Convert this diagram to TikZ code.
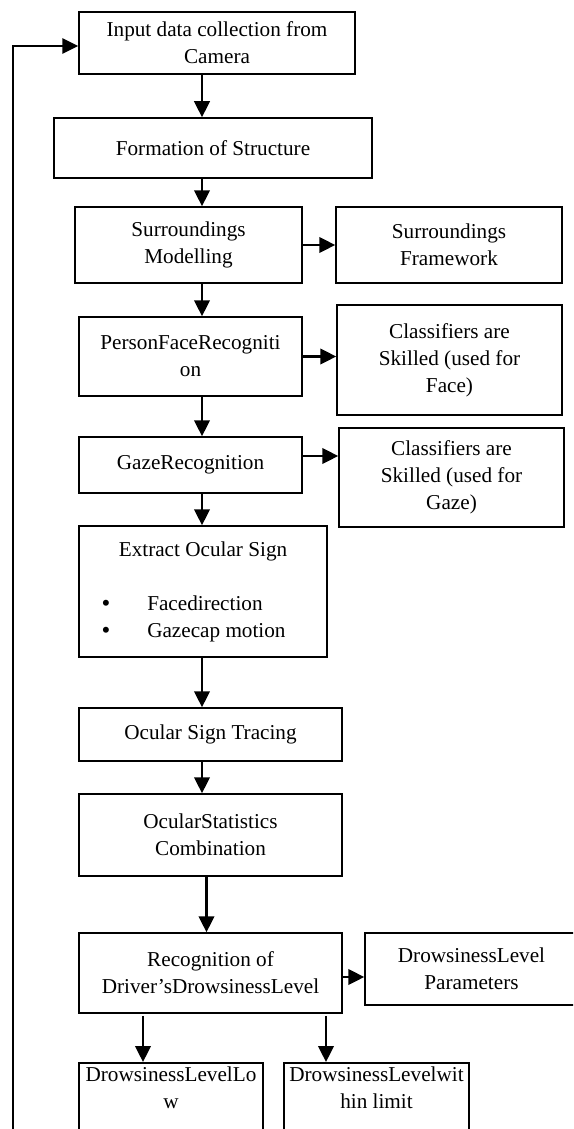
\documentclass[tikz,border=0pt]{standalone}
\usepackage{fontspec}
\setmainfont{Liberation Serif}
\usetikzlibrary{positioning}
\usetikzlibrary{arrows.meta}
\newcommand{\boxfont}{\fontsize{21.2}{27}\selectfont}
\newcommand{\bulletline}[1]{\makebox[203pt][l]{\smash{\raisebox{-1pt}{\fontsize{25}{25}\selectfont\textbullet}}\hspace{37pt}#1}}
\tikzset{>={Triangle[length=16pt,width=15.5pt]}}
\tikzset{blk/.style={draw, line width=1.5pt, align=center, inner sep=4pt, font=\boxfont}}
\tikzset{arr/.style={->, line width=2.5pt}}
\tikzset{ln/.style={->, line width=1.7pt}}

\begin{document}
\begin{tikzpicture}[x=1pt, y=-1pt]
\useasboundingbox (0,0) rectangle (573,1129);
\clip (0,0) rectangle (573,1129);

\node (input) [blk, minimum width=276pt, minimum height=62pt] at (217, 43) {Input data collection from\\Camera};
\node (struct) [blk, minimum width=318pt, minimum height=60pt] at (213, 148) {Formation of Structure};
\node (envmod) [blk, minimum width=227pt, minimum height=76pt] at (188.5, 245) {Surroundings\\Modelling};
\node (envfw) [blk, minimum width=226pt, minimum height=76pt] at (449, 245) {Surroundings\\Framework};
\node (face) [blk, minimum width=223pt, minimum height=79pt] at (190.5, 356.5) {PersonFaceRecogniti\\on};
\node (facecls) [blk, minimum width=225pt, minimum height=110pt] at (449.5, 360) {Classifiers are\\Skilled (used for\\Face)};
\node (gaze) [blk, minimum width=223pt, minimum height=56pt] at (190.5, 465) {GazeRecognition};
\node (gazecls) [blk, minimum width=225pt, minimum height=99pt] at (451.5, 477.5) {Classifiers are\\Skilled (used for\\Gaze)};
\node (extract) [blk, minimum width=248pt, minimum height=131pt] at (203, 591.5) {Extract Ocular Sign\\[27pt]\bulletline{Facedirection}\\\bulletline{Gazecap motion}};
\node (trace) [blk, minimum width=263pt, minimum height=53pt] at (210.5, 734.5) {Ocular Sign Tracing};
\node (stats) [blk, minimum width=263pt, minimum height=82pt] at (210.5, 835) {OcularStatistics\\Combination};
\node (level) [blk, minimum width=263pt, minimum height=80pt] at (210.5, 973) {Recognition of\\Driver’sDrowsinessLevel};
\node (param) [blk, minimum width=213pt, minimum height=72pt] at (471.5, 969) {DrowsinessLevel\\Parameters};
\node (low) [blk, minimum width=184pt, text depth=60pt, anchor=north] at (171, 1062) {DrowsinessLevelLo\\w};
\node (within) [blk, minimum width=185pt, text depth=60pt, anchor=north] at (376.5, 1062) {DrowsinessLevelwit\\hin limit};

\coordinate (spine) at (202, 0);
\draw[arr] (input.south -| spine) -- (struct.north -| spine);
\draw[arr] (struct.south -| spine) -- (envmod.north -| spine);
\draw[arr] (envmod.south -| spine) -- (face.north -| spine);
\draw[arr] (face.south -| spine) -- (gaze.north -| spine);
\draw[arr] (gaze.south -| spine) -- (extract.north -| spine);
\draw[arr] (extract.south -| spine) -- (trace.north -| spine);
\draw[arr] (trace.south -| spine) -- (stats.north -| spine);
\draw[arr] ([xshift=-4pt]stats.south) -- ([xshift=-4pt]level.north);

\draw[arr] (envmod) -- (envfw);
\draw[arr] (face.east) -- (face.east -| facecls.west);
\draw[arr] ([yshift=9pt]gaze.east) -- ([yshift=9pt]gaze.east -| gazecls.west);
\draw[arr] ([yshift=-4pt]level.east) -- ([yshift=-4pt]level.east -| param.west);

\coordinate (lowin) at ([xshift=-28pt]low.north);
\coordinate (within-in) at ([xshift=-50.5pt]within.north);
\draw[arr, shorten <=2pt] (lowin |- level.south) -- (lowin);
\draw[arr, shorten <=2pt] (within-in |- level.south) -- (within-in);

% back to the camera
\coordinate (back) at (13, 1140);
\draw[ln] (back) |- ([yshift=-3pt]input.west);
\end{tikzpicture}
\end{document}
